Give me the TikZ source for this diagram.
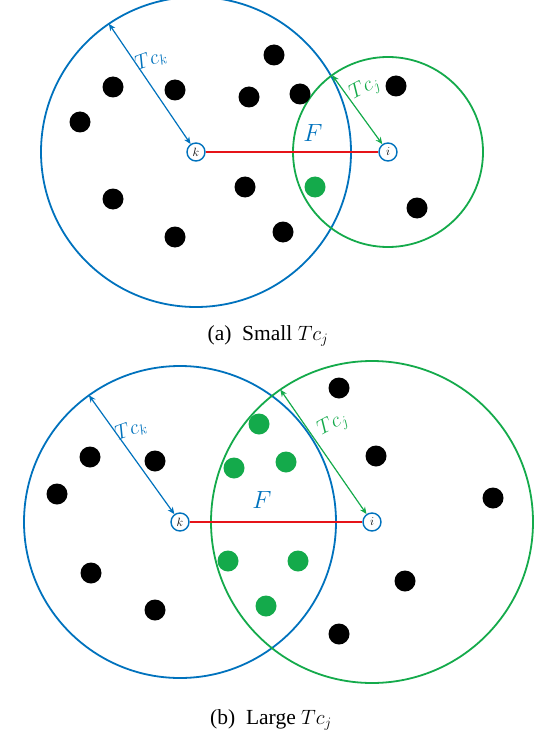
\documentclass[tikz,border=0pt]{standalone}
\usepackage{fontspec}
\setmainfont{Liberation Serif}
\usetikzlibrary{arrows.meta,calc}
\definecolor{cblue}{RGB}{0,114,189}
\definecolor{cgreen}{RGB}{20,170,75}
\definecolor{cred}{RGB}{230,20,25}
\tikzset{
  rangecirc/.style={line width=1.8pt},
  pnode/.style={circle,draw=cblue,line width=1.4pt,fill=white,minimum size=18pt,inner sep=0pt,font=\fontsize{12}{12}\selectfont},
  bdot/.style={circle,fill=black,minimum size=21pt,inner sep=0pt},
  gdot/.style={circle,fill=cgreen,minimum size=21pt,inner sep=0pt},
  linkline/.style={cred,line width=1.8pt},
  radarrow/.style={line width=1.2pt,{Stealth[length=7pt,width=6pt]}-{Stealth[length=7pt,width=6pt]}},
  tclabel/.style={inner sep=0pt,font=\fontsize{21}{21}\selectfont},
  flabel/.style={cblue,font=\fontsize{24}{24}\selectfont},
  capstyle/.style={anchor=base,inner sep=0pt,font=\fontsize{21.5}{22}\selectfont}
}
\begin{document}
\begin{tikzpicture}[x=1pt,y=-1pt]
\useasboundingbox (0,0) rectangle (534,730);
% ---------- (a) ----------
\coordinate (kA) at (196,152);
\coordinate (iA) at (388,152);
\draw[cblue,rangecirc] (kA) circle[radius=155];
\draw[cgreen,rangecirc] (iA) circle[radius=95];
\node[bdot] (a1) at (113,87) {};
\node[bdot] (a2) at (175,90) {};
\node[bdot] (a3) at (274,55) {};
\node[bdot] (a4) at (249,97) {};
\node[bdot] (a5) at (300,94) {};
\node[bdot] (a6) at (80,122) {};
\node[bdot] (a7) at (396,86) {};
\node[bdot] (a8) at (113,199) {};
\node[bdot] (a9) at (245,187) {};
\node[bdot] (a10) at (175,237) {};
\node[bdot] (a11) at (283,232) {};
\node[bdot] (a12) at (417,208) {};
\node[gdot] (ag1) at (315,187) {};
\node[pnode] (k1) at (kA) {$k$};
\node[pnode] (i1) at (iA) {$i$};
\draw[linkline] (k1) -- (i1);
\coordinate (rk1) at ($(kA)+(235.8:155)$);
\coordinate (rj1) at ($(iA)+(234:95)$);
\draw[cblue,radarrow] (rk1) -- (k1);
\draw[cgreen,radarrow] (rj1) -- (i1);
\node[tclabel,cblue,rotate=20] (lk1) at (151,60) {$Tc_k$};
\node[tclabel,cgreen,rotate=28] (lj1) at (365,89) {$Tc_j$};
\node[flabel] (F1) at (313,133) {$F$};
\node[capstyle] (capA) at (268,340) {(a)~ Small $Tc_j$};
% ---------- (b) ----------
\coordinate (kB) at (180,522);
\coordinate (iB) at (372,522);
\draw[cblue,rangecirc] (kB) circle[radius=156];
\draw[cgreen,rangecirc] (iB) circle[radius=161];
\node[bdot] (b1) at (339,388) {};
\node[bdot] (b2) at (90,457) {};
\node[bdot] (b3) at (155,461) {};
\node[bdot] (b4) at (376,456) {};
\node[bdot] (b5) at (57,494) {};
\node[bdot] (b6) at (493,498) {};
\node[bdot] (b7) at (91,573) {};
\node[bdot] (b8) at (405,581) {};
\node[bdot] (b9) at (155,610) {};
\node[bdot] (b10) at (339,634) {};
\node[gdot] (bg1) at (259,424) {};
\node[gdot] (bg2) at (234,468) {};
\node[gdot] (bg3) at (286,462) {};
\node[gdot] (bg4) at (228,561) {};
\node[gdot] (bg5) at (298,561) {};
\node[gdot] (bg6) at (266,606) {};
\node[pnode] (k2) at (kB) {$k$};
\node[pnode] (i2) at (iB) {$i$};
\draw[linkline] (k2) -- (i2);
\coordinate (rk2) at ($(kB)+(234.3:156)$);
\coordinate (rj2) at ($(iB)+(235.3:161)$);
\draw[cblue,radarrow] (rk2) -- (k2);
\draw[cgreen,radarrow] (rj2) -- (i2);
\node[tclabel,cblue,rotate=20] (lk2) at (131,430) {$Tc_k$};
\node[tclabel,cgreen,rotate=28] (lj2) at (333,425) {$Tc_j$};
\node[flabel] (F2) at (262,500) {$F$};
\node[capstyle] (capB) at (271,724) {(b)~ Large $Tc_j$};
\end{tikzpicture}
\end{document}
